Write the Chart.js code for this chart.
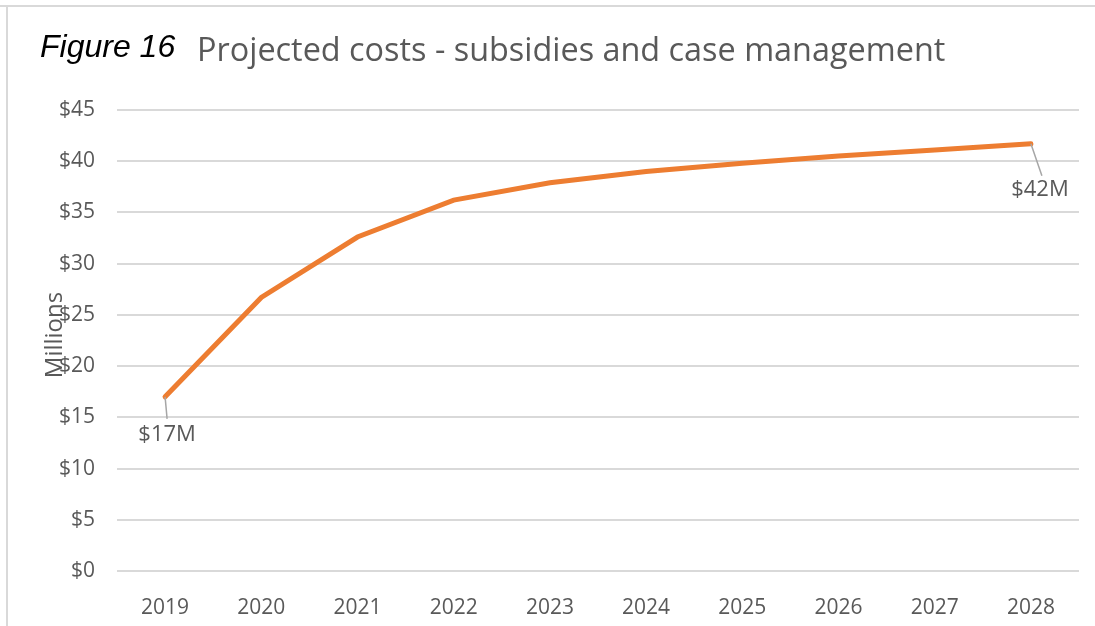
<!DOCTYPE html>
<html>
<head>
<meta charset="utf-8">
<script src="https://cdn.jsdelivr.net/npm/chart.js@4/dist/chart.umd.min.js"></script>
<style>
  html, body { margin: 0; padding: 0; background: #fff; }
  #wrap { position: relative; width: 1095px; height: 626px; }
</style>
</head>
<body>
<div id="wrap"><canvas id="c" width="1095" height="626"></canvas></div>
<script>
const years = ["2019", "2020", "2021", "2022", "2023", "2024", "2025", "2026", "2027", "2028"];
const costs = [17.0, 26.7, 32.6, 36.2, 37.9, 39.0, 39.8, 40.5, 41.1, 41.7];
const yTicks = [0, 5, 10, 15, 20, 25, 30, 35, 40, 45];

const GREY = "#595959";
const GRID = "#d9d9d9";
const ORANGE = "#ed7d31";

// frame, title, axis title and the two callouts
const decor = {
  id: "decor",
  beforeDraw(chart) {
    const ctx = chart.ctx;
    ctx.save();
    ctx.strokeStyle = GRID;
    ctx.lineWidth = 2;
    ctx.beginPath();
    ctx.moveTo(0, 6); ctx.lineTo(1095, 6);
    ctx.moveTo(7, 6); ctx.lineTo(7, 626);
    ctx.stroke();
    ctx.restore();
  },
  afterDraw(chart) {
    const ctx = chart.ctx;
    ctx.save();
    ctx.textBaseline = "alphabetic";
    ctx.textAlign = "left";
    ctx.fillStyle = "#000";
    ctx.font = "italic 32px 'Liberation Sans', Arial, sans-serif";
    ctx.fillText("Figure 16", 40, 57);
    ctx.fillStyle = GREY;
    ctx.font = "32.4px 'Open Sans', sans-serif";
    ctx.fillText("Projected costs - subsidies and case management", 197, 61);

    ctx.translate(55, 335);
    ctx.rotate(-Math.PI / 2);
    ctx.textAlign = "center";
    ctx.textBaseline = "middle";
    ctx.font = "24px 'Open Sans', sans-serif";
    ctx.fillText("Millions", 0, 0);
    ctx.restore();

    const pts = chart.getDatasetMeta(0).data;
    const first = pts[0], last = pts[pts.length - 1];
    ctx.save();
    ctx.strokeStyle = "#a6a6a6";
    ctx.lineWidth = 1.5;
    ctx.beginPath();
    ctx.moveTo(first.x, first.y); ctx.lineTo(first.x + 2, first.y + 22);
    ctx.moveTo(last.x, last.y); ctx.lineTo(last.x + 11, last.y + 32);
    ctx.stroke();
    ctx.fillStyle = GREY;
    ctx.font = "22px 'Open Sans', sans-serif";
    ctx.textAlign = "center";
    ctx.textBaseline = "middle";
    ctx.fillText("$" + Math.round(costs[0]) + "M", first.x + 2, first.y + 38);
    ctx.fillText("$" + Math.round(costs[costs.length - 1]) + "M", last.x + 9, last.y + 46);
    ctx.restore();
  }
};

new Chart(document.getElementById("c"), {
  type: "line",
  data: {
    labels: years,
    datasets: [{
      data: costs,
      borderColor: ORANGE,
      borderWidth: 5,
      pointRadius: 0,
      tension: 0,
      borderCapStyle: "round"
    }]
  },
  options: {
    responsive: false,
    animation: false,
    layout: { padding: { left: 0, right: 16, top: 110, bottom: 0 } },
    plugins: { legend: { display: false }, tooltip: { enabled: false } },
    scales: {
      x: {
        offset: true,
        grid: { display: false, drawTicks: false },
        border: { display: false },
        ticks: { color: GREY, padding: 24, font: { family: "'Open Sans'", size: 21 } },
        afterFit: (s) => { s.height = 55; }
      },
      y: {
        min: 0,
        max: 45,
        afterBuildTicks: (s) => { s.ticks = yTicks.map((v) => ({ value: v })); },
        grid: { color: GRID, lineWidth: 2, drawTicks: false },
        border: { display: false },
        ticks: {
          color: GREY,
          padding: 22,
          font: { family: "'Open Sans'", size: 21 },
          callback: (v) => "$" + v
        },
        afterFit: (s) => { s.width = 117; }
      }
    }
  },
  plugins: [decor]
});
</script>
</body>
</html>
